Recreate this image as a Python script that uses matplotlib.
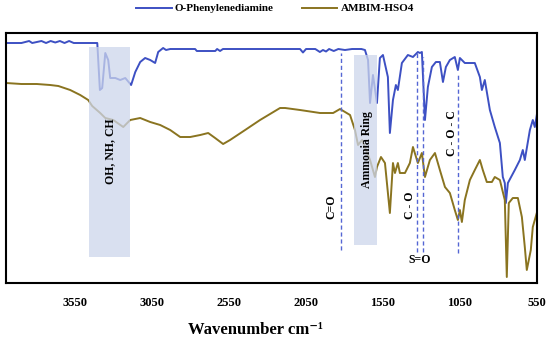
import matplotlib.pyplot as plt

# FTIR spectra, wavenumber (cm-1) vs transmittance (arbitrary %)
opd_wn = [4000, 3900, 3850, 3830, 3800, 3770, 3740, 3710, 3680, 3650, 3620, 3590, 3560,
          3407, 3390, 3375, 3355, 3336, 3323, 3290, 3258, 3225, 3187, 3160, 3128, 3096,
          3063, 3031, 3011, 2979, 2960, 2933, 2771, 2760, 2640, 2628, 2609, 2590, 2186,
          2089, 2070, 2050, 1990, 1960, 1940, 1920, 1900, 1870, 1840, 1797, 1751, 1690,
          1667, 1647, 1634, 1615, 1589, 1570, 1550, 1518, 1505, 1485, 1466, 1453, 1427,
          1388, 1355, 1323, 1310, 1297, 1277, 1258, 1232, 1206, 1180, 1160, 1141, 1115,
          1083, 1063, 1050, 1018, 985, 953, 920, 907, 888, 855, 823, 790, 771, 758, 751,
          738, 693, 660, 641, 628, 595, 576, 563, 550]
opd_t = [96, 96, 96.8, 96, 96.4, 96.8, 96, 96.8, 96.2, 96.8, 96, 96.8, 96,
         96, 77.2, 78, 92, 89.2, 82, 82, 81.2, 82, 79.2, 84.4, 88.4, 90,
         89.2, 88, 92.4, 94, 93.2, 93.6, 93.6, 92.8, 92.8, 93.6, 92.8, 93.6, 93.6,
         93.6, 92.2, 93.6, 93.6, 92.4, 93.2, 92.6, 93.6, 92.8, 93.6, 93.2, 93.6, 93.6,
         93.2, 89.2, 72, 83.2, 72, 90, 91.2, 82.4, 60, 73.2, 79.2, 77.2, 88,
         91.2, 90.4, 92.4, 92, 92.4, 65.2, 78.4, 86.4, 88.4, 88.4, 80.4, 86.4, 89.2,
         90.4, 85.2, 90, 88, 88, 88, 82.4, 77.2, 81.2, 69.2, 62.4, 56, 42.4, 40, 32,
         40, 45.2, 49.2, 53.2, 49.2, 61.2, 65.2, 62.4, 67.2]

amb_wn = [4000, 3900, 3800, 3713, 3660, 3583, 3518, 3466, 3440, 3388, 3355, 3303, 3238,
          3193, 3128, 3063, 2998, 2933, 2868, 2803, 2738, 2686, 2641, 2589, 2544, 2446,
          2349, 2219, 2186, 2089, 1959, 1874, 1829, 1764, 1732, 1712, 1686, 1660, 1634,
          1602, 1589, 1563, 1537, 1505, 1485, 1472, 1453, 1440, 1407, 1375, 1355, 1323,
          1297, 1277, 1245, 1212, 1180, 1147, 1115, 1083, 1063, 1050, 1037, 1018, 985,
          953, 920, 901, 875, 842, 823, 790, 758, 745, 732, 706, 673, 647, 628, 615,
          589, 576, 550]
amb_t = [80, 79.6, 79.6, 79.2, 78.8, 77.2, 75.2, 73.2, 70.8, 68, 66, 65.2, 62.4,
         65.2, 66, 64.4, 63.2, 61.2, 58.4, 58.4, 59.2, 60, 58, 55.6, 57.2, 61.2,
         65.2, 70, 70, 69.2, 68, 68, 69.6, 67.2, 61.2, 55.2, 57.2, 53.2, 49.2,
         42.4, 46.4, 50.4, 48, 28, 48, 44, 48, 44, 44, 48, 54.4, 48,
         52, 42.4, 49.2, 52, 45.2, 38.4, 36, 29.2, 25.2, 29.2, 24.4, 33.2, 41.2,
         45.2, 49.2, 45.2, 40.4, 40.4, 42.4, 41.2, 33.2, 2.4, 32, 34, 34, 26.4, 14.4, 5.2,
         13.2, 22.4, 28]

xticks = [3550, 3050, 2550, 2050, 1550, 1050, 550]

# marker lines: (wavenumber, top, bottom)
vlines = [(1823, 92, 13.2), (1329, 92, 12.4), (1290, 90.4, 12.4), (1063, 83.2, 12)]
# shaded regions: (wn_high, wn_low, top, bottom)
bands = [(3459, 3193, 94.4, 10.4), (1738, 1589, 91.2, 15.2)]

plt.rcParams['font.family'] = ['Liberation Serif', 'DejaVu Serif']
plt.rcParams['font.weight'] = 'bold'

fig = plt.figure(figsize=(5.5, 3.42), dpi=100)
ax = fig.add_axes([0.011, 0.1725, 0.965, 0.731])

blue = '#3d50c3'
brown = '#8a7420'
ax.plot(opd_wn, opd_t, color=blue, lw=1.4, label='O-Phenylenediamine', zorder=2)
ax.plot(amb_wn, amb_t, color=brown, lw=1.4, label='AMBIM-HSO4', zorder=2)

for hi, lo, top, bot in bands:
    ax.fill_between([hi, lo], bot, top, color='#cdd6ec', alpha=0.75, lw=0, zorder=3)

for wn, top, bot in vlines:
    ax.plot([wn, wn], [bot, top], color='#5566d4', lw=1.0, ls=(0, (3, 2)), zorder=4)

tk = dict(fontsize=8.5, fontweight='bold', zorder=5)
ax.text(3323, 52.8, 'OH, NH, CH', rotation=90, ha='center', va='center', **tk)
ax.text(1654, 53.2, 'Ammonia Ring', rotation=90, ha='center', va='center', **tk)
ax.text(1888, 30.4, 'C=O', rotation=90, ha='center', va='center', **tk)
ax.text(1375, 31.2, 'C - O', rotation=90, ha='center', va='center', **tk)
ax.text(1102, 60, 'C - O - C', rotation=90, ha='center', va='center', **tk)
ax.text(1310, 9.2, 'S=O', ha='center', va='center', **tk)

ax.set_xlim(4000, 550)
ax.set_ylim(0, 100)
ax.set_xticks(xticks)
ax.set_xticklabels([str(v) for v in xticks], fontsize=9, fontweight='bold')
ax.set_yticks([])
ax.tick_params(axis='x', length=0, pad=10)
for s in ax.spines.values():
    s.set_linewidth(1.5)

fig.text(0.464, 0.035, 'Wavenumber cm\u207b\u00b9', ha='center', va='center',
         fontsize=12, fontweight='bold')
fig.legend(loc='center', bbox_to_anchor=(0.5, 0.975), ncol=2, frameon=False,
           prop={'size': 8, 'weight': 'bold'}, handlelength=3.2, columnspacing=2.5,
           handletextpad=0.3)

fig.savefig('out.png', dpi=100)
